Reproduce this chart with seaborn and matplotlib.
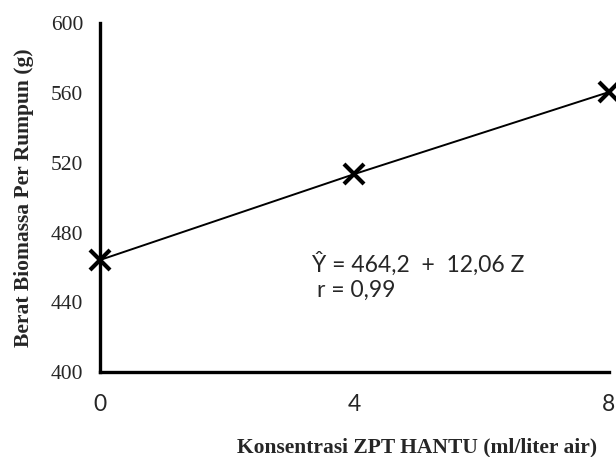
import numpy as np
import pandas as pd
import matplotlib
matplotlib.use('Agg')
import matplotlib.pyplot as plt
import seaborn as sns

# Data
konsentrasi = [0, 4, 8]
biomassa = [464.2, 513.5, 560.5]
y_ticks = [400, 440, 480, 520, 560, 600]
x_ticks = [0, 4, 8]

df = pd.DataFrame({'konsentrasi': konsentrasi, 'biomassa': biomassa})

sns.set_style('white')
plt.rcParams['font.family'] = ['Liberation Serif', 'DejaVu Serif']
sans = ['Lato', 'DejaVu Sans']

fig = plt.figure(figsize=(6.16, 4.57), dpi=100)
ax = fig.add_axes([0.162, 0.186, 0.826, 0.763])

sns.lineplot(data=df, x='konsentrasi', y='biomassa', ax=ax, color='black',
             linewidth=1.4, marker='x', markersize=14, markeredgewidth=3.0,
             markeredgecolor='black', clip_on=False, zorder=5)

ax.set_xlim(0, 8)
ax.set_ylim(400, 600)
ax.set_yticks(y_ticks)
ax.set_xticks(x_ticks)
ax.set_xticklabels([str(v) for v in x_ticks], family=sans, fontsize=16.5)
ax.set_yticklabels([str(v) for v in y_ticks], fontsize=15.5)

for side in ['top', 'right']:
    ax.spines[side].set_visible(False)
for side in ['left', 'bottom']:
    ax.spines[side].set_linewidth(2.4)
    ax.spines[side].set_color('black')

ax.tick_params(axis='both', direction='out', length=4, width=2.4, color='black')
ax.tick_params(axis='y', pad=8)
ax.tick_params(axis='x', pad=12)

# x label sits right of the axis centre in the original
ax.set_xlabel('Konsentrasi ZPT HANTU (ml/liter air)', fontsize=15.5, fontweight='bold',
              labelpad=16, x=0.623)
ax.set_ylabel('Berat Biomassa Per Rumpun (g)', fontsize=15.5, fontweight='bold', labelpad=12)

# regression annotation
ax.text(3.33, 462, 'Ŷ = 464,2  +  12,06 Z', family=sans, fontsize=16.5,
        va='center', ha='left')
ax.text(3.42, 447, 'r = 0,99', family=sans, fontsize=16.5,
        va='center', ha='left')

plt.savefig('out.png', dpi=100)
